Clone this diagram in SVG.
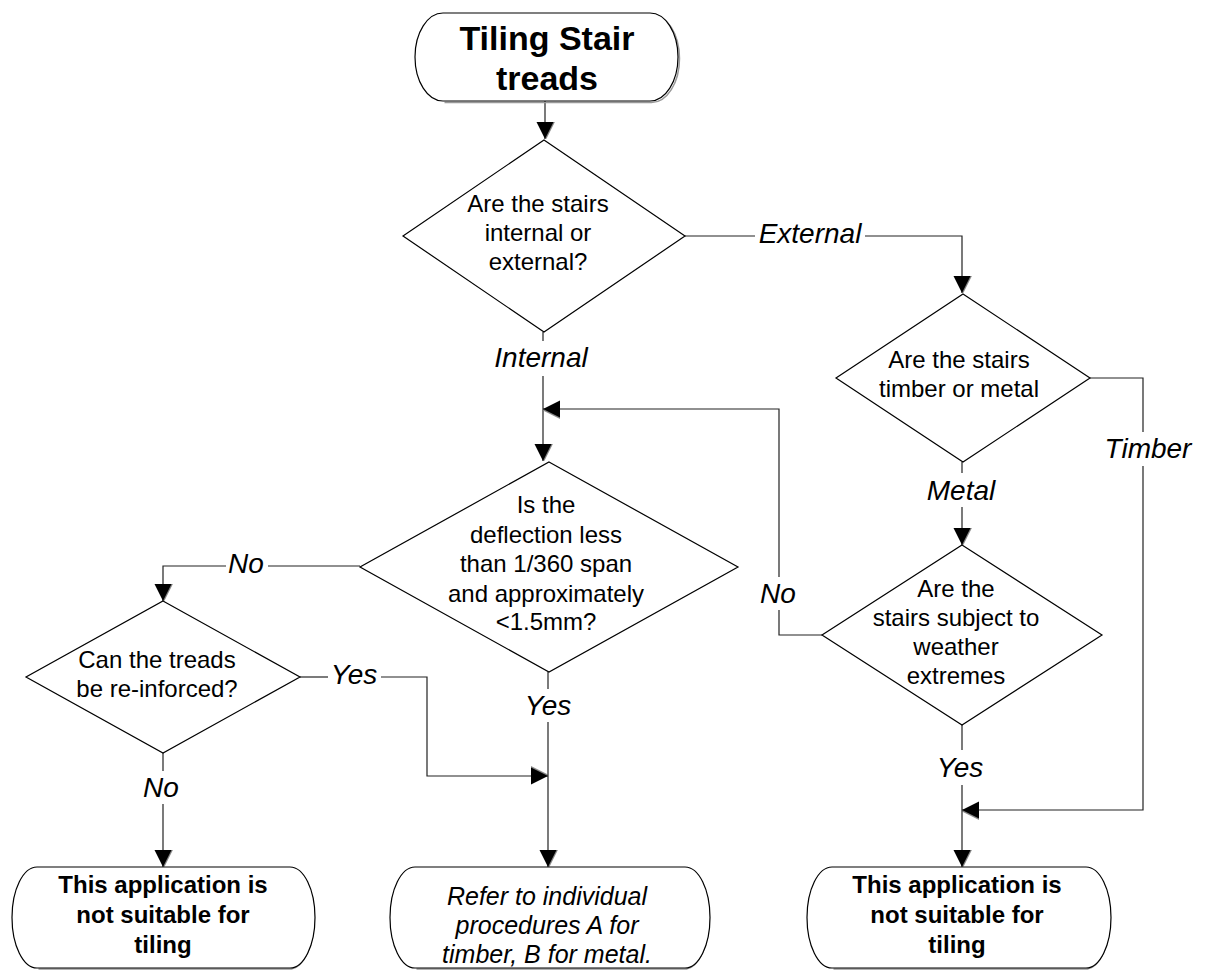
<svg xmlns="http://www.w3.org/2000/svg" width="1211" height="970" viewBox="0 0 1211 970">
<style>
  .shape { fill: #fff; stroke: #000; stroke-width: 1.2; }
  .shadow { fill: none; stroke: #999; stroke-width: 1.5; }
  .conn { fill: none; stroke: #222; stroke-width: 1.2; }
  .t { font-family: "Liberation Sans", Arial, sans-serif; font-size: 24px; fill: #000; text-anchor: middle; }
  .title { font-family: "Liberation Sans", Arial, sans-serif; font-size: 34px; font-weight: bold; fill: #000; text-anchor: middle; }
  .b { font-family: "Liberation Sans", Arial, sans-serif; font-size: 24px; font-weight: bold; fill: #000; text-anchor: middle; }
  .i { font-family: "Liberation Sans", Arial, sans-serif; font-size: 25px; font-style: italic; fill: #000; text-anchor: middle; }
  .lbl { font-family: "Liberation Sans", Arial, sans-serif; font-size: 28px; font-style: italic; fill: #000; text-anchor: middle; }
</style>
<defs>
  <marker id="arr" markerUnits="userSpaceOnUse" markerWidth="20" markerHeight="20" refX="17" refY="8.5" orient="auto" overflow="visible">
    <path d="M0,-1.4 L17,7.1 L0,15.6 Z" fill="#888"/>
    <path d="M0,0 L17,8.5 L0,17 Z" fill="#000"/>
  </marker>
</defs>

<g id="connectors">
  <path class="conn" d="M545,101 V139" marker-end="url(#arr)"/>
  <path class="conn" d="M543,332 V341"/>
  <path class="conn" d="M543,376 V461" marker-end="url(#arr)"/>
  <path class="conn" d="M822,635 H779 V610"/>
  <path class="conn" d="M779,577 V409 H543" marker-end="url(#arr)"/>
  <path class="conn" d="M360,566 H268"/>
  <path class="conn" d="M226,566 H163 V601" marker-end="url(#arr)"/>
  <path class="conn" d="M300,677 H328"/>
  <path class="conn" d="M381,677 H427 V776 H548" marker-end="url(#arr)"/>
  <path class="conn" d="M163,753 V771"/>
  <path class="conn" d="M163,804 V867" marker-end="url(#arr)"/>
  <path class="conn" d="M548,672 V689"/>
  <path class="conn" d="M548,722 V867" marker-end="url(#arr)"/>
  <path class="conn" d="M685,236 H755"/>
  <path class="conn" d="M865,236 H962 V293" marker-end="url(#arr)"/>
  <path class="conn" d="M1090,378 H1143 V432"/>
  <path class="conn" d="M1143,466 V810 H962" marker-end="url(#arr)"/>
  <path class="conn" d="M962,462 V473"/>
  <path class="conn" d="M962,507 V545" marker-end="url(#arr)"/>
  <path class="conn" d="M962,725 V750"/>
  <path class="conn" d="M962,785 V867" marker-end="url(#arr)"/>

  <text class="lbl" x="541" y="367">Internal</text>
  <text class="lbl" x="810" y="243">External</text>
  <text class="lbl" x="1148" y="458">Timber</text>
  <text class="lbl" x="961" y="500">Metal</text>
  <text class="lbl" x="778" y="603">No</text>
  <text class="lbl" x="246" y="573">No</text>
  <text class="lbl" x="354" y="684">Yes</text>
  <text class="lbl" x="161" y="797">No</text>
  <text class="lbl" x="548" y="715">Yes</text>
  <text class="lbl" x="960" y="777">Yes</text>
</g>

<g id="start">
  <path class="shadow" d="M444.5,14.5 H651.5 A28,44 0 0 1 651.5,102.5 H444.5"/>
  <path class="shape" d="M443,13 H650 A28,44 0 0 1 650,101 H443 A28,44 0 0 1 443,13 Z"/>
  <text class="title" x="547" y="50">Tiling Stair</text>
  <text class="title" x="547" y="90">treads</text>
</g>

<g id="q-internal-external">
  <polygon class="shape" points="544,140 685,236 544,332 403,236"/>
  <text class="t" x="538" y="212">Are the stairs</text>
  <text class="t" x="538" y="241">internal or</text>
  <text class="t" x="538" y="270">external?</text>
</g>

<g id="q-deflection">
  <polygon class="shape" points="549,462 738,567 549,672 360,567"/>
  <text class="t" x="546" y="513">Is the</text>
  <text class="t" x="546" y="543">deflection less</text>
  <text class="t" x="546" y="572">than 1/360 span</text>
  <text class="t" x="546" y="602">and approximately</text>
  <text class="t" x="546" y="630">&lt;1.5mm?</text>
</g>

<g id="q-reinforce">
  <polygon class="shape" points="163,601 300,677 163,753 26,677"/>
  <text class="t" x="157" y="668">Can the treads</text>
  <text class="t" x="157" y="697">be re-inforced?</text>
</g>

<g id="q-timber-metal">
  <polygon class="shape" points="963,294 1090,378 963,462 836,378"/>
  <text class="t" x="959" y="368">Are the stairs</text>
  <text class="t" x="959" y="397">timber or metal</text>
</g>

<g id="q-weather">
  <polygon class="shape" points="962,545 1102,635 962,725 822,635"/>
  <text class="t" x="956" y="597">Are the</text>
  <text class="t" x="956" y="626">stairs subject to</text>
  <text class="t" x="956" y="655">weather</text>
  <text class="t" x="956" y="684">extremes</text>
</g>

<g id="end-not-suitable-left">
  <path class="shadow" d="M38.5,868.5 H291.5 A25,50.5 0 0 1 291.5,969 H38.5"/>
  <path class="shape" d="M37,867 H290 A25,50.5 0 0 1 290,968 H37 A25,50.5 0 0 1 37,867 Z"/>
  <text class="b" x="163" y="893">This application is</text>
  <text class="b" x="163" y="923">not suitable for</text>
  <text class="b" x="163" y="953">tiling</text>
</g>

<g id="end-refer">
  <path class="shadow" d="M416.5,868.5 H686.5 A25,50.5 0 0 1 686.5,969 H416.5"/>
  <path class="shape" d="M415,867 H685 A25,50.5 0 0 1 685,968 H415 A25,50.5 0 0 1 415,867 Z"/>
  <text class="i" x="547" y="905">Refer to individual</text>
  <text class="i" x="547" y="934">procedures A for</text>
  <text class="i" x="547" y="963">timber, B for metal.</text>
</g>

<g id="end-not-suitable-right">
  <path class="shadow" d="M833.5,868.5 H1087.5 A25,50.5 0 0 1 1087.5,969 H833.5"/>
  <path class="shape" d="M832,867 H1086 A25,50.5 0 0 1 1086,968 H832 A25,50.5 0 0 1 832,867 Z"/>
  <text class="b" x="957" y="893">This application is</text>
  <text class="b" x="957" y="923">not suitable for</text>
  <text class="b" x="957" y="953">tiling</text>
</g>
</svg>
